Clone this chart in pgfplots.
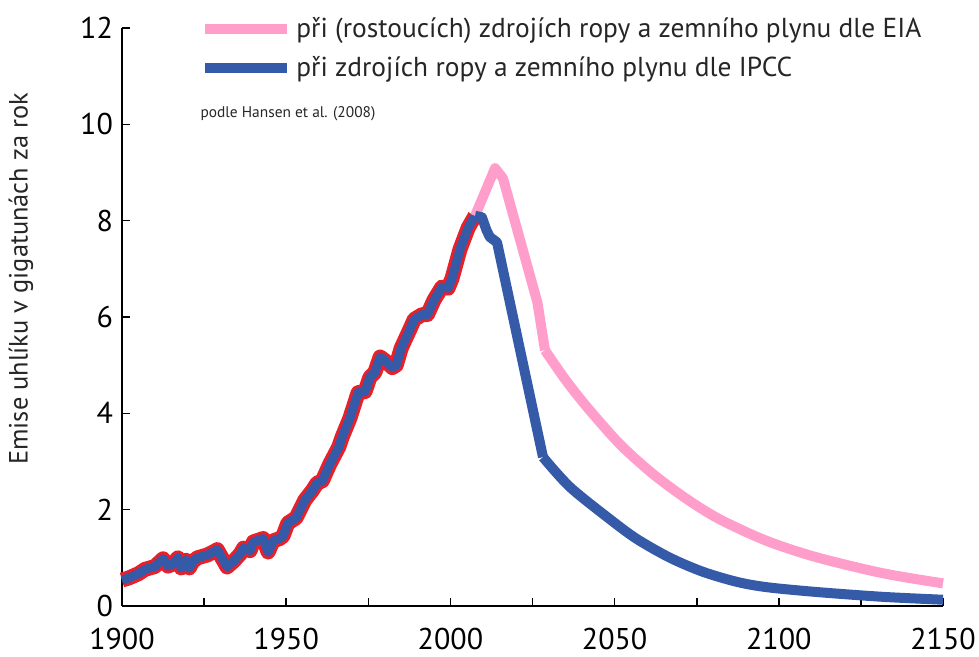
\documentclass[border=0pt]{standalone}
\usepackage{pgfplots}
\pgfplotsset{compat=1.18}
\usepackage{fontspec}
\setmainfont{PT Sans}
\definecolor{hred}{HTML}{E8202A}
\definecolor{hblue}{HTML}{345AA8}
\definecolor{hpink}{HTML}{FF9DCB}
\begin{document}
\begin{tikzpicture}
\path[use as bounding box] (-61pt,-25.5pt) rectangle (428.5pt,303pt);
\begin{axis}[
  scale only axis,
  width=410.5pt, height=289pt,
  xmin=1900, xmax=2150, ymin=0, ymax=12,
  axis lines=left,
  axis line style={line width=1.4pt, -},
  xtick={1900,1925,...,2150},
  xticklabels={1900,,1950,,2000,,2050,,2100,,2150},
  ytick={0,2,...,12},
  tick align=inside,
  major tick length=4pt,
  tick style={black, line width=0.8pt},
  /pgf/number format/assume math mode=true,
  ticklabel style={font=\fontsize{15}{18}\selectfont},
  xticklabel style={yshift=-7.5pt},
  yticklabel style={xshift=-1pt},
  ylabel={Emise uhlíku v gigatunách za rok},
  ylabel style={at={(axis description cs:-0.123,0.566)}, anchor=center, font=\fontsize{13.2}{16}\selectfont, text=black!85},
  clip=false,
  legend style={at={(axis description cs:0.095,1.026)}, anchor=north west, draw=none, fill=none,
    font=\fontsize{13.7}{17}\selectfont, text=black!85, row sep=4pt, inner sep=0pt},
  legend cell align=left,
  legend image code/.code={\draw[line width=5pt, line cap=round] (2.5pt,0pt) -- (26.5pt,0pt); \path (0pt,0pt) -- (41pt,0pt);},
  line join=round,
]
% historical red outline
\addplot[hred, line width=7.5pt, forget plot] coordinates {
(1900,0.54) (1902,0.58) (1905,0.67) (1907,0.76) (1910,0.82) (1912.5,0.98) (1914,0.83) (1915.5,0.87)
(1917,1.0) (1918,0.79) (1919.5,0.95) (1920.5,0.79) (1921.5,0.92) (1923,1.0) (1926,1.06) (1928.3,1.14)
(1929,1.17) (1930,1.05) (1932,0.81) (1934,0.93) (1936,1.08) (1937,1.2) (1939,1.15) (1940,1.33)
(1943,1.40) (1944.5,1.12) (1946,1.35) (1948,1.4) (1949,1.45) (1950.5,1.72) (1953,1.83) (1955.7,2.2)
(1958,2.4) (1959.4,2.55) (1961,2.6) (1963.3,2.95) (1966,3.3) (1967,3.5) (1969.4,3.9) (1971.9,4.43)
(1974,4.45) (1975.5,4.75) (1977,4.85) (1978.6,5.17) (1980,5.1) (1982.3,4.95) (1983.5,5.0) (1985,5.35)
(1987.7,5.75) (1989,5.95) (1991.4,6.05) (1993,6.05) (1995,6.35) (1997.4,6.62) (1999.3,6.6) (2000.5,6.8)
(2002.9,7.4) (2005.4,7.85) (2007.5,8.1)
};
\addplot[hblue, line width=4.5pt, forget plot] coordinates {
(1900,0.54) (1902,0.58) (1905,0.67) (1907,0.76) (1910,0.82) (1912.5,0.98) (1914,0.83) (1915.5,0.87)
(1917,1.0) (1918,0.79) (1919.5,0.95) (1920.5,0.79) (1921.5,0.92) (1923,1.0) (1926,1.06) (1928.3,1.14)
(1929,1.17) (1930,1.05) (1932,0.81) (1934,0.93) (1936,1.08) (1937,1.2) (1939,1.15) (1940,1.33)
(1943,1.40) (1944.5,1.12) (1946,1.35) (1948,1.4) (1949,1.45) (1950.5,1.72) (1953,1.83) (1955.7,2.2)
(1958,2.4) (1959.4,2.55) (1961,2.6) (1963.3,2.95) (1966,3.3) (1967,3.5) (1969.4,3.9) (1971.9,4.43)
(1974,4.45) (1975.5,4.75) (1977,4.85) (1978.6,5.17) (1980,5.1) (1982.3,4.95) (1983.5,5.0) (1985,5.35)
(1987.7,5.75) (1989,5.95) (1991.4,6.05) (1993,6.05) (1995,6.35) (1997.4,6.62) (1999.3,6.6) (2000.5,6.8)
(2002.9,7.4) (2005.4,7.85) (2007.5,8.1)
};
% EIA scenario
\addplot[hpink, line width=5pt] coordinates {
(2007.5,8.1) (2013.6,9.09) (2016,8.88) (2026.5,6.3) (2028.8,5.31)
};
\addlegendentry{při (rostoucích) zdrojích ropy a zemního plynu dle EIA}
\addplot[hpink, line width=5pt, smooth, tension=0.5, forget plot] coordinates {
(2028.8,5.31) (2035,4.7) (2041.6,4.13) (2051.6,3.36)
(2061.7,2.74) (2072,2.22) (2082,1.80) (2096.4,1.35) (2111.6,1.01) (2131.7,0.68) (2150,0.47)
};
% IPCC scenario
\addplot[hblue, line width=5pt] coordinates {
(2007.5,8.1) (2009.6,8.07) (2011,7.8) (2012,7.66) (2014.2,7.55) (2028.2,3.09)
};
\addlegendentry{při zdrojích ropy a zemního plynu dle IPCC}
\addplot[hblue, line width=5pt, smooth, tension=0.5, forget plot] coordinates {
(2028.2,3.09) (2036.4,2.47)
(2048.6,1.80) (2056.8,1.39) (2066.9,1.0) (2076.9,0.71) (2087.3,0.50) (2096.4,0.39) (2111.6,0.29)
(2131.7,0.19) (2150,0.13)
};
\node[anchor=west, font=\fontsize{7.7}{9}\selectfont, text=black!85, inner sep=0pt] at (axis cs:1923.8,10.23) {podle Hansen et al. (2008)};
\end{axis}
\end{tikzpicture}
\end{document}
